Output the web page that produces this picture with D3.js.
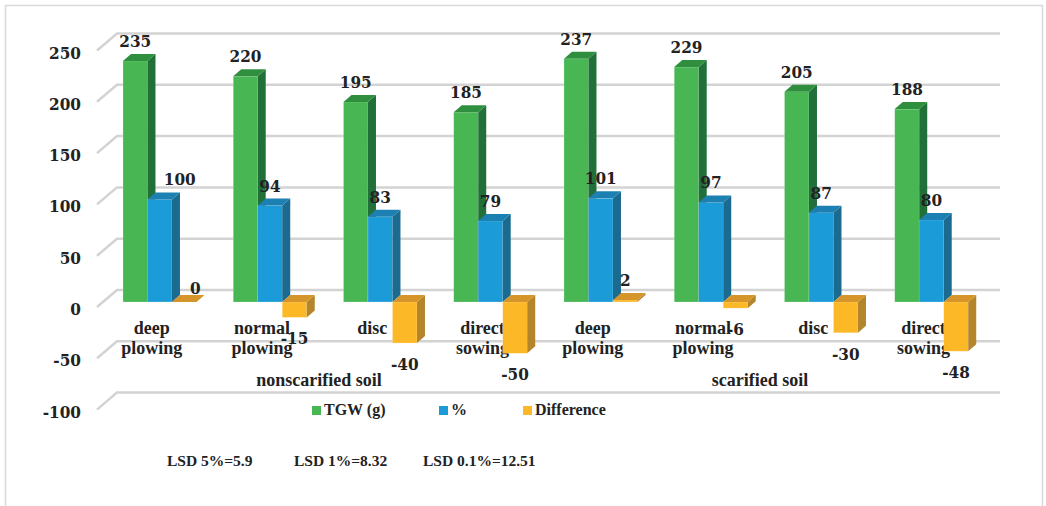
<!DOCTYPE html>
<html>
<head>
<meta charset="utf-8">
<script src="https://cdn.jsdelivr.net/npm/d3@7"></script>
<style>
  body { margin: 0; background: #fff; }
  .num { font-family: "DejaVu Serif Condensed", "DejaVu Serif", serif; font-stretch: condensed; font-weight: bold; fill: #222; }
  .word { font-family: "Liberation Serif", serif; font-weight: bold; fill: #222; }
</style>
</head>
<body>
<div id="chart"></div>
<script>
// chart data
const categories = ["deep plowing", "normal plowing", "disc", "direct sowing",
                    "deep plowing", "normal plowing", "disc", "direct sowing"];
const soilGroups = ["nonscarified soil", "scarified soil"];
const seriesNames = ["TGW (g)", "%", "Difference"];
const tgw = [235, 220, 195, 185, 237, 229, 205, 188];
const pct = [100, 94, 83, 79, 101, 97, 87, 80];
const diff = [0, -15, -40, -50, 2, -6, -30, -48];
const yTicks = [-100, -50, 0, 50, 100, 150, 200, 250];
const lsdLabels = ["LSD 5%=5.9", "LSD 1%=8.32", "LSD 0.1%=12.51"];

const W = 1046, H = 506;
const colors = [
    { front: "#48b753", side: "#21703a", top: "#2f8f3f" },
    { front: "#1b9bd7", side: "#1b6a8f", top: "#1d80b3" },
    { front: "#fdb827", side: "#b5852b", top: "#d6952a" }
];
const depth = { dx: 8, dy: 7 };      // bar depth offset
const wall = { dx: 20, dy: 17 };     // floor slant of gridlines
const wallShift = 12;                // back wall sits above the bar plane

const svg = d3.select("#chart").append("svg")
    .attr("width", W)
    .attr("height", H);

// outer frame
svg.append("rect")
    .attr("x", 5.5).attr("y", 5.5)
    .attr("width", 1037).attr("height", 520)
    .attr("fill", "none")
    .attr("stroke", "#d9d9d9")
    .attr("stroke-width", 1.5);

const x = d3.scaleBand()
    .domain(d3.range(categories.length))
    .range([104.6, 986.6])
    .paddingInner(1 / 3)
    .paddingOuter(1 / 6);

const xs = d3.scaleBand()
    .domain(seriesNames)
    .range([0, x.bandwidth()]);

const y = d3.scaleLinear()
    .domain([0, 250])
    .range([302, 45.5]);

// gridlines on the back wall
const grid = svg.append("g");
yTicks.forEach(t => {
    const yb = y(t) - wallShift;
    grid.append("path")
        .attr("d", "M97," + (yb + wall.dy) + "L117," + yb + "L1000," + yb)
        .attr("fill", "none")
        .attr("stroke", "#d3d3d3")
        .attr("stroke-width", 2.5);
});

// y axis labels
svg.selectAll(".ytick")
    .data(yTicks)
    .enter().append("text")
    .attr("class", "num")
    .attr("x", 81)
    .attr("y", d => y(d) - wallShift + wall.dy + 8)
    .attr("text-anchor", "end")
    .style("font-size", "17px")
    .text(d => d);

// category labels
svg.selectAll(".cat")
    .data(categories)
    .enter().append("text")
    .attr("class", "word")
    .attr("text-anchor", "middle")
    .style("font-size", "18px")
    .each(function(d, i) {
        const cx = x(i) + x.bandwidth() / 2 - 8;
        d.split(" ").forEach((w, k) => {
            d3.select(this).append("tspan")
                .attr("x", cx)
                .attr("y", 334 + k * 20)
                .text(w);
        });
    });

// soil group labels
svg.selectAll(".soil")
    .data(soilGroups)
    .enter().append("text")
    .attr("class", "word")
    .attr("x", (d, g) => (x(g * 4) + x(g * 4 + 3) + x.bandwidth()) / 2 - 6)
    .attr("y", 386)
    .attr("text-anchor", "middle")
    .style("font-size", "18px")
    .text(d => d);

// 3D bars
const series = [tgw, pct, diff];
const bars = svg.append("g");
categories.forEach((c, i) => {
    series.forEach((vals, s) => {
        const v = vals[i];
        const x0 = x(i) + xs(seriesNames[s]);
        const w = xs.bandwidth();
        const yTop = y(Math.max(v, 0));
        const yBot = y(Math.min(v, 0));
        const col = colors[s];
        const g = bars.append("g");
        if (yBot - yTop > 0) {
            g.append("rect")
                .attr("x", x0).attr("y", yTop)
                .attr("width", w).attr("height", yBot - yTop)
                .attr("fill", col.front)
                .attr("stroke", "rgba(255,255,255,0.35)")
                .attr("stroke-width", 0.6);
            g.append("path")
                .attr("d", "M" + (x0 + w) + "," + yTop +
                    "L" + (x0 + w + depth.dx) + "," + (yTop - depth.dy) +
                    "L" + (x0 + w + depth.dx) + "," + (yBot - depth.dy) +
                    "L" + (x0 + w) + "," + yBot + "Z")
                .attr("fill", col.side);
        }
        g.append("path")
            .attr("d", "M" + x0 + "," + yTop +
                "L" + (x0 + depth.dx) + "," + (yTop - depth.dy) +
                "L" + (x0 + w + depth.dx) + "," + (yTop - depth.dy) +
                "L" + (x0 + w) + "," + yTop + "Z")
            .attr("fill", col.top);
    });
});

// value labels
const labels = svg.append("g");
categories.forEach((c, i) => {
    series.forEach((vals, s) => {
        const v = vals[i];
        let cx = x(i) + xs(seriesNames[s]) + xs.bandwidth() / 2;
        let cy = v >= 0 ? y(v) - 14 : y(v) + 27;
        if (i === 0 && s === 1) cx += 20;
        if (i === 0 && s === 2) { cx += 11; cy += 6; }
        labels.append("text")
            .attr("class", "num")
            .attr("x", cx)
            .attr("y", cy)
            .attr("text-anchor", "middle")
            .style("font-size", "17px")
            .text(v);
    });
});

// legend
const legend = svg.append("g");
const legendX = [312, 439, 523];
seriesNames.forEach((n, s) => {
    legend.append("rect")
        .attr("x", legendX[s]).attr("y", 406)
        .attr("width", 9).attr("height", 9)
        .attr("fill", colors[s].front);
    legend.append("text")
        .attr("class", "word")
        .attr("x", legendX[s] + 12)
        .attr("y", 415)
        .style("font-size", "16px")
        .text(n);
});

// LSD notes
const lsdX = [167, 294, 423];
svg.selectAll(".lsd")
    .data(lsdLabels)
    .enter().append("text")
    .attr("class", "word")
    .attr("x", (d, k) => lsdX[k])
    .attr("y", 466)
    .style("font-size", "15.5px")
    .text(d => d);
</script>
</body>
</html>
